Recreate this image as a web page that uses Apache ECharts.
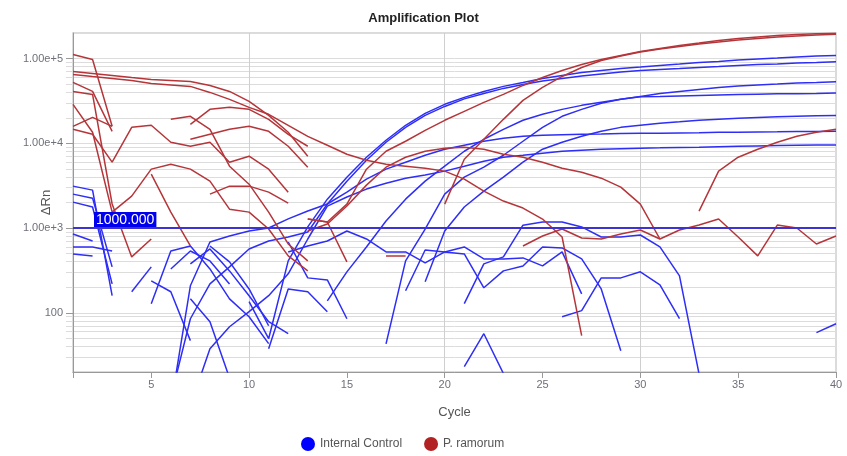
<!DOCTYPE html>
<html><head><meta charset="utf-8">
<script src="https://cdn.jsdelivr.net/npm/echarts@6/dist/echarts.min.js"></script>
<style>html,body{margin:0;padding:0;background:#fff}#c{width:847px;height:456px}</style>
</head><body><div id="c"></div>
<script>
const gap = n => new Array(n).fill(null);

const cycles = [1,2,3,4,5,6,7,8,9,10,11,12,13,14,15,16,17,18,19,20,21,22,23,24,25,26,27,28,29,30,31,32,33,34,35,36,37,38,39,40];

// ---- Internal Control wells (ΔRn per cycle; null = not drawn) ----
const icA1 = [...gap(9), 135, 49.4, 409, 1030, 2190, 3980, 6840, 10850, 16300, 22500, 28800, 34800, 40900, 46900, 52200, 58200, 63100, 68400, 72300, 76300, 79400, 82800, 86100, 89700, 92200, 96000, 98700, 101400, 104200, 107000, 108400];
const icA2 = [...gap(5), 10, 85, 219, 348, 566, 703, 783, 897, 1920, 3570, 6310, 10280, 15400, 21300, 27200, 33400, 38700, 44400, 49400, 54300, 58200, 62200, 65800, 69400, 72300, 74300, 76300, 78400, 80500, 82800, 85000, 86100, 88500, 89700, 91400];
const icA3 = [...gap(13), 138, 304, 598, 1210, 2190, 3570, 5360, 8050, 11140, 14600, 18700, 22000, 25100, 28000, 30400, 33000, 35700, 38700, 40900, 43200, 45600, 47500, 48800, 50100, 51500, 52200, 53200];
const icA4 = [...gap(16), 43, 409, 973, 2510, 3980, 5220, 7220, 10560, 15400, 20800, 25100, 29600, 33000, 35300, 35700, 36200, 36700, 37200, 37700, 38000, 38300, 38500, 38700, 39100];
const icA5 = [...gap(18), 232, 922, 1770, 2720, 3980, 5980, 8500, 10280, 12080, 13840, 15400, 16300, 17200, 17900, 18700, 19200, 19700, 20100, 20500, 20800, 21100, 21200];
const icA6 = [...gap(5), 8, 208, 684, 805, 922, 1000, 1280, 1590, 1920, 2650, 3770, 4950, 5980, 7220, 8500, 9470, 10560, 11460, 12080, 12410, 12580, 12760, 12860, 13000, 13120, 13120, 13220, 13330, 13470, 13470, 13590, 13650, 13740, 13810, 13840];
const icA7 = [...gap(6), 8, 37.7, 68.4, 103, 159, 288, 742, 1815, 2320, 2880, 3380, 3870, 4210, 4690, 5360, 6140, 6840, 7220, 7630, 8050, 8270, 8500, 8620, 8740, 8830, 8940, 8980, 9120, 9220, 9300, 9380, 9460, 9520, 9570];
const icN1 = [...gap(20), 128, 377, 456, 1080, 1180, 1180, 1030, 783, 783, 827, 598, 272, 19];
const icN2 = [...gap(11), 522, 614, 703, 922, 742, 522, 522, 387, 522, 598, 432, 432, 444, 357, 522, 167];
const icN3 = [...gap(17), 182, 551, 522, 494, 197, 312, 357, 598, 582, 432, 191, 35.7];
const icN4 = [...gap(25), 89.7, 106, 258, 258, 304, 213, 85];
const icN5 = [...gap(20), 23.2, 56.6, 19.2];
const icN6 = [...gap(38), 58.2, 74.3];
const icN7 = [...gap(11), 684, 258, 244, 85];
const icN8 = [...gap(10), 37.7, 191, 177, 103];
const icE1 = [3120, 2800, 159];
const icE2 = [2510, 2250, 348];
const icE3 = [2020, 1770, 219];
const icE4 = [850, 703];
const icE5 = [598, 598, 536];
const icE6 = [494, 469];
const icB1 = [...gap(3), 177, 348];
const icB2 = [...gap(4), 238, 177, 46.9];
const icB3 = [...gap(4), 128, 536, 614, 329, 146, 89.7, 43.2];
const icB4 = [...gap(6), 377, 566, 312, 159, 78.4, 56.6];
const icB5 = [...gap(7), 614, 398, 191, 70.3];
const icB6 = [...gap(5), 329, 536, 409, 219];
const icB7 = [...gap(6), 146, 78.4, 17];

// ---- P. ramorum wells ----
const prT1 = [111400, 97300, 15850];
const prT2 = [52200, 40900, 13840];
const prT3 = [40900, 37700, 1920, 456, 742];
const prT4 = [28800, 13470, 1540, 2380, 4950, 5660, 4950, 3570, 1670, 1540, 973, 469, 312];
const prT5 = [15850, 20230, 15850];
const prT6 = [14620, 12760, 5980, 15420, 16290, 10280, 9220, 10280, 5980, 7030, 4950, 2650];
const prR3 = [70300, 66640, 63100, 59700, 56600, 55100, 53600, 48100, 40900, 31200, 21340, 13470, 7030];
const prM1 = [64860, 61400, 58200, 55100, 50800, 48750, 46880, 39810, 32950, 26530, 21950, 16290, 12080, 9470, 7430, 6310, 5660, 5360, 5080, 4690, 3770, 2720, 2080, 1720, 1276, 783, 53.6];
const prDg = [...gap(4), 4320, 1540, 614];
const prU1 = [...gap(5), 19150, 20780, 14620, 5360, 3290, 1540, 648, 409];
const prU2 = [...gap(6), 16740, 25120, 26530, 25120, 19150, 12760, 9220];
const prU3 = [...gap(6), 11140, 12760, 14620, 15850, 13840, 9220, 5220];
const prU4 = [...gap(7), 2510, 3120, 3120, 2650, 1970];
const prD1 = [...gap(12), 1276, 1177, 398];
const prD2 = [...gap(16), 469, 469];
const prH1 = [...gap(12), 922, 1114, 1815, 3206, 5220, 6843, 8050, 8735, 8980, 8500, 7430, 6843, 5975, 5080, 4560, 3873, 3035, 1916, 742];
const prA1 = [...gap(12), 1276, 1177, 1916, 4945, 8050, 10560, 14220, 18660, 23790, 30350, 37730, 48110, 59700, 72300, 84950, 97300, 108400, 120800, 131200, 142200, 152100, 162800, 171800, 179000, 186500, 191600, 195400, 198600];
const prA2 = [...gap(19), 1916, 6480, 11140, 19150, 32060, 45600, 61400, 78370, 94700, 107000, 119200, 129400, 138400, 148200, 156400, 165000, 171800, 179000, 183900, 189000, 193200];
const prA3 = [...gap(32), 1585, 4688, 6843, 8500, 10280, 12080, 13470, 14620];
const prN1 = [...gap(23), 614, 805, 973, 762, 742, 850, 947, 742, 947, 1084, 1276, 783, 469, 1084, 1000, 648, 805];

const icWells = [icA1, icA2, icA3, icA4, icA5, icA6, icA7, icN1, icN2, icN3, icN4, icN5, icN6, icN7, icN8,
                 icE1, icE2, icE3, icE4, icE5, icE6, icB1, icB2, icB3, icB4, icB5, icB6, icB7];
const prWells = [prT1, prT2, prT3, prT4, prT5, prT6, prR3, prM1, prDg, prU1, prU2, prU3, prU4, prD1, prD2,
                 prH1, prA1, prA2, prA3, prN1];

const thresholdValue = 1000;
const thresholdLabel = '1000.000';
const yMinorGrid = [30,40,50,60,70,80,90,200,300,400,500,600,700,800,900,2000,3000,4000,5000,6000,7000,8000,9000,20000,30000,40000,50000,60000,70000,80000,90000];
const xGridCycles = [10, 20, 30];
const xTickCycles = [1,5,10,15,20,25,30,35,40];
const xLabelCycles = [5,10,15,20,25,30,35,40];
const seriesNames = ['Internal Control', 'P. ramorum'];

const BLUE = '#2e2ef7', RED = '#b5363a';
const toPairs = arr => cycles.map((c, i) => [c, arr[i] == null ? null : arr[i]]);

const series = [];
series.push({
  type: 'line', name: '_grid', data: [], silent: true, z: 0,
  markLine: {
    silent: true, symbol: 'none', animation: false, label: {show: false}, z: 0,
    lineStyle: {color: '#dcdcdc', type: 'solid', width: 1},
    data: yMinorGrid.map(v => ({yAxis: v}))
      .concat(xGridCycles.map(c => ({xAxis: c, lineStyle: {color: '#cfcfcf', type: 'solid', width: 1}})))
  }
});
icWells.forEach(w => series.push({
  type: 'line', name: seriesNames[0], data: toPairs(w), showSymbol: false, symbol: 'none',
  connectNulls: false, z: 2, silent: true, smooth: false,
  itemStyle: {color: BLUE}, lineStyle: {color: BLUE, width: 1.5, type: 'solid'}
}));
prWells.forEach(w => series.push({
  type: 'line', name: seriesNames[1], data: toPairs(w), showSymbol: false, symbol: 'none',
  connectNulls: false, z: 3, silent: true, smooth: false,
  itemStyle: {color: RED}, lineStyle: {color: RED, width: 1.5, type: 'solid'}
}));
series.push({
  type: 'line', name: '_threshold', data: [], silent: true, z: 5,
  markLine: {
    silent: true, symbol: 'none', animation: false, z: 6,
    lineStyle: {color: '#3c33d2', type: 'solid', width: 2},
    label: {show: true, position: 'insideStartTop', formatter: thresholdLabel, color: '#fff',
            backgroundColor: '#0000ee', fontSize: 14, padding: [1, 2, 0, 2], distance: [21, 1],
            fontFamily: 'Liberation Sans'},
    data: [{yAxis: thresholdValue}]
  }
});

const chart = echarts.init(document.getElementById('c'), null, {renderer: 'canvas'});
chart.setOption({
  animation: false,
  textStyle: {fontFamily: 'Liberation Sans'},
  title: {text: 'Amplification Plot', left: 'center', top: 7,
          textStyle: {fontSize: 13, fontWeight: 'bold', color: '#222', fontFamily: 'Liberation Sans'}},
  legend: {data: [{name: seriesNames[0], itemStyle: {color: '#0000ff'}}, {name: seriesNames[1], itemStyle: {color: '#b22222'}}],
           icon: 'circle', left: 296, top: 432, itemWidth: 14, itemHeight: 14, itemGap: 22,
           textStyle: {fontSize: 12, color: '#555'}},
  grid: {left: 73, right: 11, top: 33, bottom: 84, show: true, borderColor: '#d0d0d0', borderWidth: 1.5},
  xAxis: {type: 'value', min: 1, max: 40,
          axisLine: {onZero: false, lineStyle: {color: '#999'}},
          axisTick: {show: true, length: 6, customValues: xTickCycles, lineStyle: {color: '#999'}},
          axisLabel: {customValues: xLabelCycles, color: '#6e7079', fontSize: 11, margin: 7},
          splitLine: {show: false},
          name: 'Cycle', nameLocation: 'middle', nameGap: 34, nameTextStyle: {color: '#555', fontSize: 13}},
  yAxis: [
    {type: 'log', logBase: 10, min: 20, max: 200000,
     axisLine: {show: true, lineStyle: {color: '#999'}},
     axisTick: {show: true, length: 7, lineStyle: {color: '#999'}},
     axisLabel: {showMinLabel: false, showMaxLabel: false, color: '#6e7079', fontSize: 11, margin: 10,
                 formatter: v => v >= 1000 ? Number(v).toExponential(2) : String(Math.round(v))},
     splitLine: {show: true, lineStyle: {color: '#dcdcdc'}},
     name: 'ΔRn', nameLocation: 'middle', nameGap: 20, nameMoveOverlap: false,
     nameTextStyle: {color: '#555', fontSize: 13}},
    {type: 'log', logBase: 10, min: 20, max: 200000, position: 'left', offset: 0,
     axisLine: {show: false}, axisLabel: {show: false}, splitLine: {show: false},
     axisTick: {show: true, length: 7, customValues: yMinorGrid, lineStyle: {color: '#dcdcdc'}}}
  ],
  series: series
});
</script>
</body></html>
